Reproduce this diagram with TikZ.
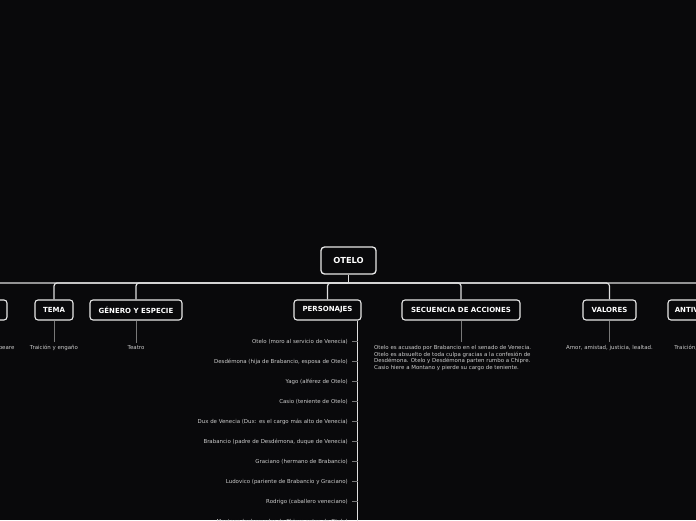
\documentclass[tikz,border=0pt]{standalone}
\usepackage{fontspec}
\setmainfont{DejaVu Sans}
\definecolor{bg}{RGB}{9,9,11}
\definecolor{boxc}{RGB}{232,232,232}
\definecolor{barc}{RGB}{222,222,222}
\definecolor{txt}{RGB}{205,205,205}
\definecolor{thin}{RGB}{120,120,120}
\begin{document}
\begin{tikzpicture}[x=1pt,y=-1pt,
  root/.style={draw=boxc, fill=bg, rounded corners=3.5pt, line width=1.3pt, text=white,
    font=\bfseries\fontsize{8.3}{10}\selectfont, minimum width=55pt, minimum height=27pt, inner sep=0pt},
  cat/.style={draw=boxc, fill=bg, rounded corners=3pt, line width=1.1pt, text=white,
    font=\bfseries\fontsize{7}{8}\selectfont, minimum height=20pt, inner sep=0pt},
  leaf/.style={text=txt, font=\fontsize{5.45}{6.5}\selectfont, inner sep=0pt},
  bar/.style={draw=barc, line width=1.2pt, rounded corners=3pt},
  leafline/.style={draw=thin, line width=0.6pt},
  tick/.style={draw=thin, line width=0.6pt}
]
\useasboundingbox (0,0) rectangle (696,520);
\fill[bg] (0,0) rectangle (696,520);
\clip (0,0) rectangle (696,520);

% root
\node[root] (root) at (348.5,260.5) {OTELO};
\coordinate (stem) at (348.5,283);

% categories
\node[cat, minimum width=48pt] (autor) at (-17,310) {AUTOR};
\node[cat, minimum width=38pt] (tema) at (54,310) {TEMA};
\node[cat, minimum width=92pt] (genero) at (136,310) {GÉNERO Y ESPECIE};
\node[cat, minimum width=67pt] (pers) at (327.5,310) {PERSONAJES};
\node[cat, minimum width=118pt] (sec) at (461,310) {SECUENCIA DE ACCIONES};
\node[cat, minimum width=53pt] (val) at (609.5,310) {VALORES};
\node[cat, minimum width=68pt] (anti) at (702,310) {ANTIVALORES};

% main bar
\draw[draw=barc, line width=1.2pt] (root.south) -- (stem);
\foreach \c in {autor,tema,genero,pers,sec,val,anti}{
  \draw[bar] (stem) -| (\c.north);
}

% simple leaves
\node[leaf] (autortxt) at (-14,348) {William Shakespeare};
\node[leaf] (tematxt) at (54,348) {Traición y engaño};
\node[leaf] (generotxt) at (136,348) {Teatro};
\node[leaf] (valtxt) at (609.5,348) {Amor, amistad, justicia, lealtad.};
\node[leaf] (antitxt) at (702,348) {Traición, celos, odio.};
\node[leaf, anchor=north west, align=left] (sectxt) at (374,345.2)
  {Otelo es acusado por Brabancio en el senado de Venecia.\\
   Otelo es absuelto de toda culpa gracias a la confesión de\\
   Desdémona. Otelo y Desdémona parten rumbo a Chipre.\\
   Casio hiere a Montano y pierde su cargo de teniente.};

\foreach \a/\b in {autor/autortxt,tema/tematxt,genero/generotxt,val/valtxt,anti/antitxt}{
  \draw[leafline] (\a.south) -- ([yshift=3pt]\b.north);
}
\draw[leafline] (sec.south) -- (461,342);

% personajes list
\draw[draw=barc, line width=1.2pt] ([xshift=-4pt]pers.south east) -- ++(0,220);
\foreach \i/\t in {
  0/{Otelo (moro al servicio de Venecia)},
  1/{Desdémona (hija de Brabancio, esposa de Otelo)},
  2/{Yago (alférez de Otelo)},
  3/{Casio (teniente de Otelo)},
  4/{Dux de Venecia (Dux: es el cargo más alto de Venecia)},
  5/{Brabancio (padre de Desdémona, duque de Venecia)},
  6/{Graciano (hermano de Brabancio)},
  7/{Ludovico (pariente de Brabancio y Graciano)},
  8/{Rodrigo (caballero veneciano)},
  9/{Montano (gobernador de Chipre antes de Otelo)}}{
  \node[leaf, anchor=east] (p\i) at (348,341.5+20*\i) {\t};
  \draw[tick] ([xshift=4pt]p\i.east) -- ([xshift=9.5pt]p\i.east);
}
\end{tikzpicture}
\end{document}
